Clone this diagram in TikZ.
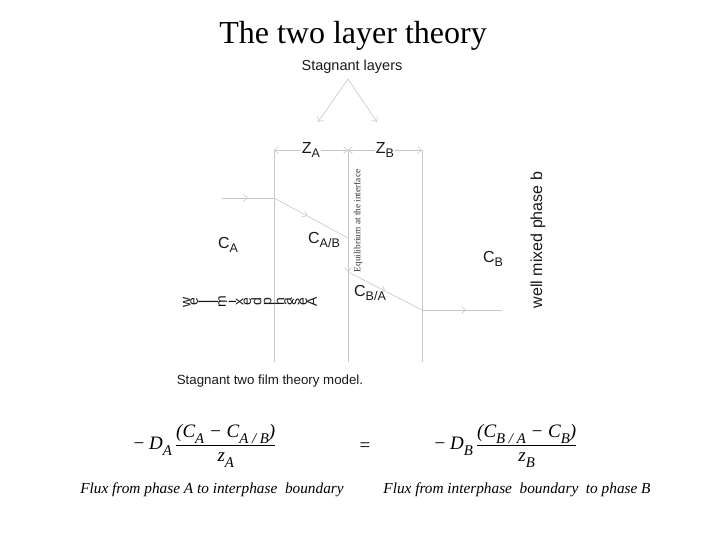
\documentclass[tikz,border=0pt]{standalone}
\usepackage{fontspec}
\usepackage{graphicx}
\setmainfont{Liberation Serif}
\setsansfont{Liberation Sans}
\usetikzlibrary{arrows.meta,decorations.markings}
\newcommand{\lowsub}[1]{\raisebox{-0.3em}{\scalebox{0.78}{#1}}}
\newcommand{\turned}[1]{$\vcenter{\hbox{\rotatebox{90}{#1}}}$}

\begin{document}
\begin{tikzpicture}[
    x=1pt, y=-1pt,
    guide/.style={draw=black!22, line width=0.6pt},
    barb/.style={-{Straight Barb[length=4pt,width=7pt]}},
    twobarb/.style={{Straight Barb[length=4pt,width=7pt]}-{Straight Barb[length=4pt,width=7pt]}},
    midarrow/.style={postaction={decorate}, decoration={markings,
                     mark=at position #1 with {\arrow{Straight Barb[length=4pt,width=7pt]}}}},
    midarrow/.default=0.5,
    heading/.style={font=\fontsize{32}{36}\selectfont, inner sep=0pt},
    lbl/.style={font=\sffamily\fontsize{16}{18}\selectfont, text=black!90, inner sep=1pt},
    smalllbl/.style={font=\sffamily\fontsize{14.5}{16}\selectfont, text=black!90, inner sep=1pt},
    tinylbl/.style={font=\fontsize{9.3}{10}\selectfont, text=black!80, inner sep=1pt, rotate=90},
    eqn/.style={font=\fontsize{19}{22}\selectfont, inner sep=0pt},
    flux/.style={font=\itshape\fontsize{15.3}{17}\selectfont, inner sep=0pt},
  ]
  \useasboundingbox (0,0) rectangle (720,540);

  \node[heading] (title) at (353,36) {The two layer theory};
  \node[smalllbl] (stag) at (352,67) {Stagnant layers};
  \coordinate (apex) at (348,79);
  \coordinate (tipA) at (318,122);
  \coordinate (tipB) at (377,122);
  \draw[guide,barb] (apex) -- (tipA);
  \draw[guide,barb] (apex) -- (tipB);

  \foreach \n/\x in {filmA/274, iface/348, filmB/422} {
    \coordinate (\n-top) at (\x,150);
    \coordinate (\n-bot) at (\x,362);
    \draw[guide] (\n-top) -- (\n-bot);
  }
  \draw[guide,twobarb] (filmA-top) -- node[lbl, fill=white] (za) {Z\lowsub{A}} (iface-top);
  \draw[guide,twobarb] (iface-top) -- node[lbl, fill=white] (zb) {Z\lowsub{B}} (filmB-top);

  \coordinate (inA) at (222,198);
  \coordinate (kneeA) at (274,198);
  \coordinate (eqA) at (348,238);
  \coordinate (eqB) at (348,272);
  \coordinate (kneeB) at (422,310);
  \coordinate (outB) at (502,310);
  \draw[guide,midarrow] (inA) -- (kneeA);
  \draw[guide,midarrow=0.45] (kneeA) -- (eqA);
  \draw[guide,barb] (eqA) -- (eqB);
  \draw[guide,midarrow] (eqB) -- (kneeB);
  \draw[guide,midarrow=0.55] (kneeB) -- (outB);

  \node[lbl] (ca) at (228,245) {C\lowsub{A}};
  \node[lbl] (cab) at (324,240) {C\lowsub{A/B}};
  \node[lbl] (cba) at (370,293) {C\lowsub{B/A}};
  \node[lbl] (cb) at (493,259) {C\lowsub{B}};
  \node[tinylbl] (equil) at (358,221) {Equilibrium at the interface};
  \node[lbl, rotate=90] (wellb) at (538,240) {well mixed phase b};
  \node[lbl, font=\sffamily\fontsize{14}{16}\selectfont] (wella) at (250,302)
    {\turned{w}\turned{e}\turned{l}\turned{l}\turned{m}\turned{i}\turned{x}\turned{e}\turned{d}\,\turned{p}\turned{h}\turned{a}\turned{s}\turned{e}\turned{A}};
  \node[smalllbl, font=\sffamily\fontsize{13.3}{15}\selectfont] (model) at (270,381) {Stagnant two film theory model.};

  \node[eqn] (fluxA) at (205,446)
    {− \textit{D}\lowsub{\textit{A}}\,$\displaystyle\frac{\hbox{\itshape (C\lowsub{A} − C\lowsub{A / B})}}{\hbox{\itshape z\lowsub{A}}}$};
  \node[eqn] (equals) at (365,447) {=};
  \node[eqn] (fluxB) at (506,446)
    {− \textit{D}\lowsub{\textit{B}}\,$\displaystyle\frac{\hbox{\itshape (C\lowsub{B / A} − C\lowsub{B})}}{\hbox{\itshape z\lowsub{B}}}$};
  \node[flux] (capA) at (212,490) {Flux\ from\ phase\ A to interphase\ \ boundary};
  \node[flux] (capB) at (517,490) {Flux\ from interphase\ \ boundary\ \ to\ phase\ B};
\end{tikzpicture}
\end{document}
